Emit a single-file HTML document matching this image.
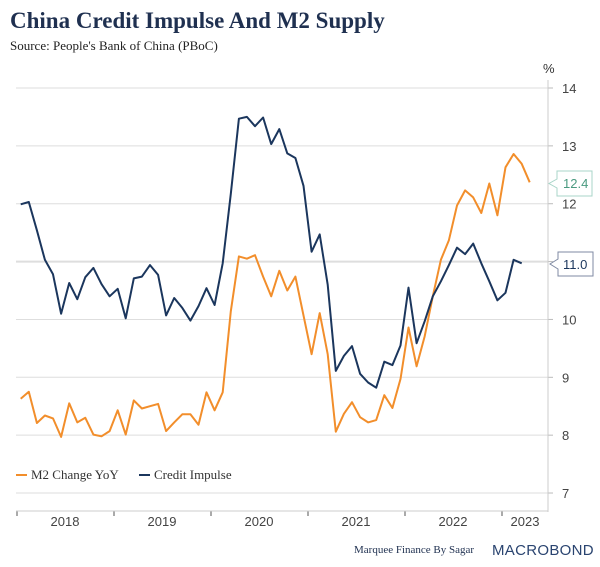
<!DOCTYPE html>
<html><head><meta charset="utf-8"><style>
body{margin:0;background:#fff;width:600px;height:567px;overflow:hidden}
svg{display:block}
</style></head><body>
<svg id="chart" width="600" height="567" xmlns="http://www.w3.org/2000/svg">
<text x="10" y="28" font-family="Liberation Serif, serif" font-weight="bold" font-size="23" fill="#1f3050">China Credit Impulse And M2 Supply</text>
<text x="10" y="50" font-family="Liberation Serif, serif" font-size="13" fill="#222">Source: People's Bank of China (PBoC)</text>
<text x="543" y="73" font-family="Liberation Sans, sans-serif" font-size="13" fill="#333">%</text>
<g id="grid"></g>
<g id="series"></g>
<line x1="548" y1="80" x2="548" y2="512" stroke="#ccc" stroke-width="1"/>
<line x1="16" y1="511" x2="548" y2="511" stroke="#ccc" stroke-width="1"/>
<g id="legend" font-family="Liberation Serif, serif" font-size="13" fill="#333">
<line x1="16" y1="475" x2="27" y2="475" stroke="#f28e2b" stroke-width="2"/>
<text x="31" y="479">M2 Change YoY</text>
<line x1="139" y1="475" x2="150" y2="475" stroke="#1b365d" stroke-width="2"/>
<text x="154" y="479">Credit Impulse</text>
</g>
<g>
<path d="M557,171 H592 V196 H557 V188 L549,183.5 L557,179 Z" fill="#fff" stroke="#a8d5c8"/>
<text x="563" y="188" font-family="Liberation Sans, sans-serif" font-size="13" fill="#4a9a80">12.4</text>
</g>
<g>
<path d="M558,252 H593 V276 H558 V269 L550,264 L558,259 Z" fill="#fff" stroke="#7f8aa3"/>
<text x="563" y="269" font-family="Liberation Sans, sans-serif" font-size="13" fill="#1b365d">11.0</text>
</g>
<text x="354" y="553" font-family="Liberation Serif, serif" font-size="11" fill="#1f3050">Marquee Finance By Sagar</text>
<text x="492" y="555" font-family="Liberation Sans, sans-serif" font-size="15" fill="#2a4470" letter-spacing="0.3">MACROBOND</text>
</svg>
<script>
const yTicks=[7,8,9,10,11,12,13,14];
const yearLabels=["2018","2019","2020","2021","2022","2023"];
const m2=[8.63,8.75,8.21,8.34,8.29,7.97,8.55,8.22,8.30,8.01,7.98,8.07,8.43,8.01,8.60,8.46,8.50,8.54,8.07,8.22,8.36,8.36,8.18,8.74,8.43,8.74,10.14,11.09,11.05,11.11,10.74,10.40,10.84,10.50,10.74,10.07,9.40,10.11,9.40,8.06,8.37,8.57,8.31,8.22,8.26,8.69,8.47,8.97,9.86,9.19,9.71,10.40,11.03,11.37,11.97,12.23,12.11,11.84,12.35,11.80,12.63,12.86,12.69,12.37];
const credit=[11.99,12.03,11.54,11.03,10.78,10.10,10.63,10.35,10.73,10.89,10.61,10.40,10.53,10.02,10.71,10.74,10.94,10.77,10.07,10.37,10.20,9.98,10.23,10.54,10.25,10.97,12.17,13.47,13.50,13.34,13.49,13.03,13.29,12.87,12.79,12.31,11.17,11.47,10.60,9.11,9.37,9.54,9.06,8.91,8.82,9.27,9.21,9.55,10.55,9.59,9.97,10.40,10.66,10.94,11.24,11.13,11.31,10.97,10.66,10.33,10.46,11.03,10.97];
const NS="http://www.w3.org/2000/svg";
const y=v=>88+(14-v)*57.86;
const x=i=>20.7+8.08*i;
const yearX=k=>17+97*k;
const grid=document.getElementById('grid');
yTicks.forEach(v=>{
 const l=document.createElementNS(NS,'line');
 l.setAttribute('x1',16);l.setAttribute('x2',548);l.setAttribute('y1',y(v));l.setAttribute('y2',y(v));
 l.setAttribute('stroke','#dedede');l.setAttribute('stroke-width',v===11?2:1);
 
 
 grid.appendChild(l);
 const tk=document.createElementNS(NS,'line');
 tk.setAttribute('x1',548);tk.setAttribute('x2',553);tk.setAttribute('y1',y(v));tk.setAttribute('y2',y(v));tk.setAttribute('stroke','#bbb');
 
 
 grid.appendChild(tk);
 const t=document.createElementNS(NS,'text');
 t.setAttribute('x',562);t.setAttribute('y',y(v)+5);t.setAttribute('font-family','Liberation Sans, sans-serif');t.setAttribute('font-size','13');t.setAttribute('fill','#444');
 t.textContent=v;
 
 
 grid.appendChild(t);
});
yearLabels.forEach((lab,k)=>{
 const tk=document.createElementNS(NS,'line');
 tk.setAttribute('x1',yearX(k));tk.setAttribute('x2',yearX(k));tk.setAttribute('y1',511);tk.setAttribute('y2',516);tk.setAttribute('stroke','#555');
 
 
 grid.appendChild(tk);
 const t=document.createElementNS(NS,'text');
 const cx=k<5?yearX(k)+48:(yearX(k)+548)/2;
 t.setAttribute('x',cx);t.setAttribute('y',526);t.setAttribute('text-anchor','middle');t.setAttribute('font-family','Liberation Sans, sans-serif');t.setAttribute('font-size','13');t.setAttribute('fill','#444');
 t.textContent=lab;
 
 
 grid.appendChild(t);
});
const ser=document.getElementById('series');
function line(data,color,name){
 const p=document.createElementNS(NS,'polyline');
 p.setAttribute('points',data.map((v,i)=>x(i).toFixed(1)+','+y(v).toFixed(1)).join(' '));
 p.setAttribute('fill','none');p.setAttribute('stroke',color);p.setAttribute('stroke-width','2');p.setAttribute('stroke-linejoin','round');
 
 
 ser.appendChild(p);
}
line(m2,'#f28e2b','m2-line');
line(credit,'#1b365d','credit-impulse-line');
</script>
</body></html>
